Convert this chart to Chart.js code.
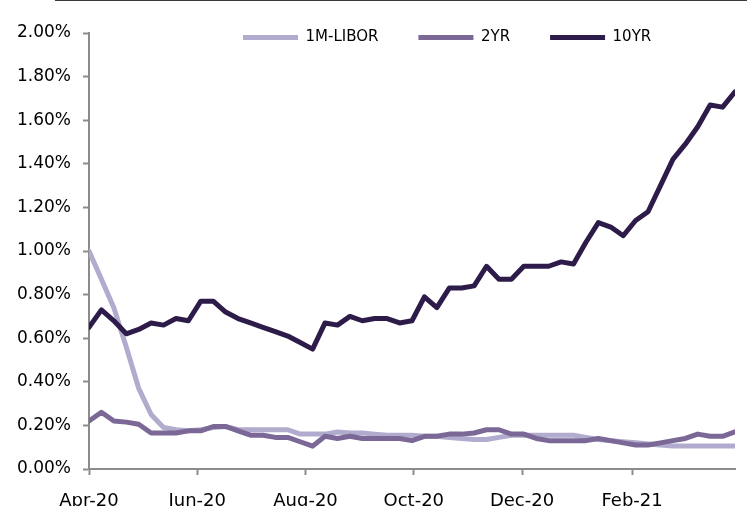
<!DOCTYPE html>
<html>
<head>
<meta charset="utf-8">
<script src="https://cdn.jsdelivr.net/npm/chart.js@4.4.0/dist/chart.umd.min.js"></script>
<style>
  html, body { margin: 0; padding: 0; background: #ffffff; }
  #wrap { position: relative; width: 747px; height: 506px; }
  #topline { position: absolute; left: 55px; right: 0; top: 0; height: 1px; background: #3a3a3a; }
  canvas { display: block; }
</style>
</head>
<body>
<div id="wrap">
  <canvas id="c" width="747" height="506"></canvas>
  <div id="topline"></div>
</div>
<script>
// Weekly observations, Apr 1 2020 .. Mar 31 2021 (days since Apr 1 2020)
const libor1m = [1.00, 0.87, 0.74, 0.56, 0.37, 0.25, 0.19, 0.18, 0.175, 0.18, 0.19, 0.195, 0.18, 0.18, 0.18, 0.18, 0.18, 0.16, 0.16, 0.16, 0.17, 0.165, 0.165, 0.16, 0.155, 0.155, 0.155, 0.15, 0.15, 0.145, 0.14, 0.135, 0.135, 0.145, 0.155, 0.155, 0.155, 0.155, 0.155, 0.155, 0.145, 0.135, 0.13, 0.125, 0.12, 0.115, 0.11, 0.105, 0.105, 0.105, 0.105, 0.105, 0.105];
const twoYr = [0.22, 0.26, 0.22, 0.215, 0.205, 0.165, 0.165, 0.165, 0.175, 0.175, 0.195, 0.195, 0.175, 0.155, 0.155, 0.145, 0.145, 0.125, 0.105, 0.15, 0.14, 0.15, 0.14, 0.14, 0.14, 0.14, 0.13, 0.15, 0.15, 0.16, 0.16, 0.165, 0.18, 0.18, 0.16, 0.16, 0.14, 0.13, 0.13, 0.13, 0.13, 0.14, 0.13, 0.12, 0.11, 0.11, 0.12, 0.13, 0.14, 0.16, 0.15, 0.15, 0.17];
const tenYr = [0.65, 0.73, 0.68, 0.62, 0.64, 0.67, 0.66, 0.69, 0.68, 0.77, 0.77, 0.72, 0.69, 0.67, 0.65, 0.63, 0.61, 0.58, 0.55, 0.67, 0.66, 0.70, 0.68, 0.69, 0.69, 0.67, 0.68, 0.79, 0.74, 0.83, 0.83, 0.84, 0.93, 0.87, 0.87, 0.93, 0.93, 0.93, 0.95, 0.94, 1.04, 1.13, 1.11, 1.07, 1.14, 1.18, 1.30, 1.42, 1.49, 1.57, 1.67, 1.66, 1.73];
const seriesNames = ['1M-LIBOR', '2YR', '10YR'];
const monthTickDays = [0, 61, 122, 183, 244, 306];
const monthTickLabels = ['Apr-20', 'Jun-20', 'Aug-20', 'Oct-20', 'Dec-20', 'Feb-21'];
const yTicks = [0, 0.2, 0.4, 0.6, 0.8, 1.0, 1.2, 1.4, 1.6, 1.8, 2.0];

const dayOffsets = libor1m.map((_, i) => i * 7);
const toPoints = arr => arr.map((v, i) => ({ x: dayOffsets[i], y: v }));

const FONT = "'DejaVu Sans', 'Liberation Sans', sans-serif";
const AXIS = '#8c8c8c';

const legendShift = {
  id: 'legendShift',
  beforeLayout(chart) {
    if (chart.legend) chart.legend.isHorizontal = () => true;
  },
  afterLayout(chart) {
    const lg = chart.legend;
    if (!lg) return;
    const pad = lg.options.labels.padding;
    lg.left = 243 - pad;
    lg.right = 747;
    lg.top = 30 - pad;
  }
};

new Chart(document.getElementById('c'), {
  type: 'line',
  data: {
    datasets: [
      { label: seriesNames[0], data: toPoints(libor1m), borderColor: '#b1abcd', backgroundColor: '#b1abcd', borderWidth: 5, order: 3 },
      { label: seriesNames[1], data: toPoints(twoYr), borderColor: '#7b6896', backgroundColor: '#7b6896', borderWidth: 5, order: 2 },
      { label: seriesNames[2], data: toPoints(tenYr), borderColor: '#2d1c4a', backgroundColor: '#2d1c4a', borderWidth: 5, order: 1 }
    ]
  },
  options: {
    responsive: false,
    animation: false,
    devicePixelRatio: 1,
    layout: { padding: { top: 33, right: 12, left: 0, bottom: 0 } },
    elements: {
      point: { radius: 0, hoverRadius: 0 },
      line: { tension: 0, borderJoinStyle: 'round', borderCapStyle: 'round' }
    },
    plugins: {
      tooltip: { enabled: false },
      legend: {
        position: 'chartArea',
        align: 'start',
        labels: {
          usePointStyle: true,
          pointStyle: 'line',
          pointStyleWidth: 55,
          padding: 40,
          color: '#000',
          font: { family: FONT, size: 15 },
          sort: (a, b) => a.datasetIndex - b.datasetIndex
        }
      }
    },
    scales: {
      x: {
        type: 'linear',
        min: 0,
        max: 364,
        afterBuildTicks: s => { s.ticks = monthTickDays.map(v => ({ value: v })); },
        afterFit: s => { s.height = 37; },
        grid: { drawOnChartArea: false, drawTicks: true, tickLength: 6, tickColor: AXIS, tickWidth: 2 },
        border: { color: AXIS, width: 2 },
        ticks: {
          autoSkip: false,
          maxRotation: 0,
          padding: 16,
          color: '#000',
          font: { family: FONT, size: 18 },
          callback: v => monthTickLabels[monthTickDays.indexOf(v)]
        }
      },
      y: {
        min: 0,
        max: 2.0,
        afterBuildTicks: s => { s.ticks = yTicks.map(v => ({ value: v })); },
        afterFit: s => { s.width = 89; },
        grid: { drawOnChartArea: false, drawTicks: true, tickLength: 6, tickColor: AXIS, tickWidth: 2 },
        border: { color: AXIS, width: 2 },
        ticks: {
          padding: 12,
          color: '#000',
          font: { family: FONT, size: 17 },
          callback: v => v.toFixed(2) + '%'
        }
      }
    }
  },
  plugins: [legendShift]
});
</script>
</body>
</html>
